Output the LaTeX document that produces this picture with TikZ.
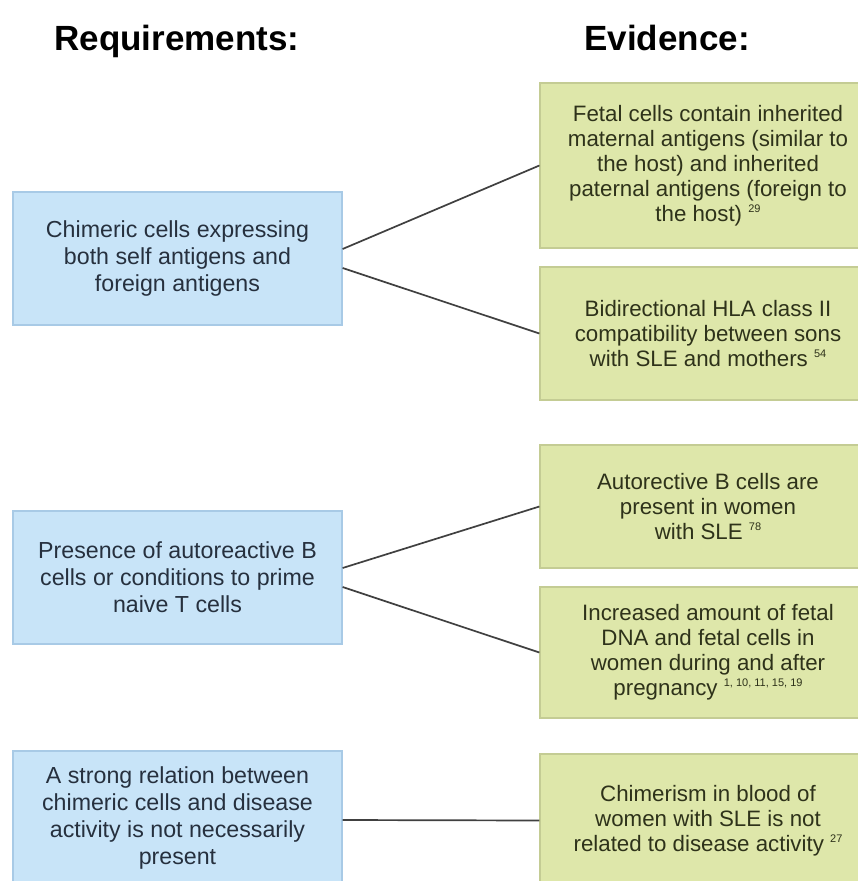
\documentclass[tikz,border=0pt]{standalone}
\usepackage{fontspec}
\setmainfont{Liberation Sans}
\usepackage{xcolor}
\definecolor{reqfill}{RGB}{200,228,248}
\definecolor{reqline}{RGB}{168,202,230}
\definecolor{reqtext}{RGB}{38,48,62}
\definecolor{evifill}{RGB}{222,231,170}
\definecolor{eviline}{RGB}{196,204,148}
\definecolor{evitext}{RGB}{46,50,26}
\newcommand{\refsup}[1]{\raisebox{0.75ex}{\fontsize{11}{11}\selectfont #1}}
\begin{document}
\begin{tikzpicture}[x=1pt,y=-1pt]
				    \tikzstyle{edge}=[draw,line width = 1.7pt,-,black!75]
				    \tikzstyle{heading}=[anchor=base,inner sep=0pt,font=\fontsize{35}{40}\selectfont\bfseries]
				    \tikzstyle{req}=[draw=reqline,line width=1.2pt,fill=reqfill,text=reqtext,align=center,inner sep=0pt,minimum width=329pt,font=\fontsize{23.2}{27}\selectfont]
				    \tikzstyle{evi}=[draw=eviline,line width=1.2pt,fill=evifill,text=evitext,align=center,inner sep=0pt,minimum width=336pt,font=\fontsize{22.3}{25}\selectfont]
				    \useasboundingbox (0,0) rectangle (858,881);
				    \clip (0,0) rectangle (858,881);
				    \fill[white] (0,0) rectangle (858,881);
				    \node[heading] (hreq) at (177,50) {Requirements:};
				    \node[heading] (hevi) at (667,50) {Evidence:};
				    \node[req,minimum height=133pt] (reqa) at (177.5,258.5) {Chimeric cells expressing\\both self antigens and\\foreign antigens};
				    \node[req,minimum height=133pt] (reqb) at (177.5,577.5) {Presence of autoreactive B\\cells or conditions to prime\\naive T cells};
				    \node[req,minimum height=134pt] (reqc) at (177.5,818) {A strong relation between\\chimeric cells and disease\\activity is not necessarily\\present};
				    \node[evi,minimum height=165pt] (evia) at (708,165.5) {Fetal cells contain inherited\\maternal antigens (similar to\\the host) and inherited\\paternal antigens (foreign to\\the host) \refsup{29}};
				    \node[evi,minimum height=133pt] (evib) at (708,333.5) {Bidirectional HLA class II\\compatibility between sons\\with SLE and mothers \refsup{54}};
				    \node[evi,minimum height=123pt] (evic) at (708,506.5) {Autorective B cells are\\present in women\\with SLE \refsup{78}};
				    \node[evi,minimum height=131pt] (evid) at (708,652.5) {Increased amount of fetal\\DNA and fetal cells in\\women during and after\\pregnancy \refsup{1, 10, 11, 15, 19}};
				    \node[evi,minimum height=133pt] (evie) at (708,820.5) {Chimerism in blood of\\women with SLE is not\\related to disease activity \refsup{27}};
				    \draw[edge] ([yshift=9.5pt]reqa.east) -- (evia.west);
				    \draw[edge] ([yshift=-9.5pt]reqa.east) -- (evib.west);
				    \draw[edge] ([yshift=9.5pt]reqb.east) -- (evic.west);
				    \draw[edge] ([yshift=-9.5pt]reqb.east) -- (evid.west);
				    \draw[edge] ([yshift=-2pt]reqc.east) -- (evie.west);
				\end{tikzpicture}
\end{document}
